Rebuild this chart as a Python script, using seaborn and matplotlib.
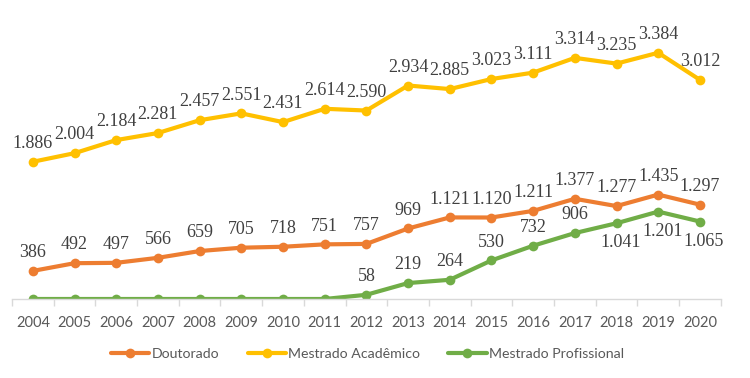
import numpy as np
import pandas as pd
import matplotlib
matplotlib.use("Agg")
import matplotlib.pyplot as plt
import seaborn as sns
from matplotlib.lines import Line2D

years = list(range(2004, 2021))
doutorado = [386, 492, 497, 566, 659, 705, 718, 751, 757, 969, 1121, 1120, 1211, 1377, 1277, 1435, 1297]
mestrado_acad = [1886, 2004, 2184, 2281, 2457, 2551, 2431, 2614, 2590, 2934, 2885, 3023, 3111, 3314, 3235, 3384, 3012]
mestrado_prof = [0, 0, 0, 0, 0, 0, 0, 0, 58, 219, 264, 530, 732, 906, 1041, 1201, 1065]
series_names = ["Doutorado", "Mestrado Acadêmico", "Mestrado Profissional"]
colors = ["#ED7D31", "#FFC000", "#70AD47"]

df = pd.DataFrame({
    "Ano": years * 3,
    "Valor": doutorado + mestrado_acad + mestrado_prof,
    "Serie": [series_names[0]] * 17 + [series_names[1]] * 17 + [series_names[2]] * 17,
})

sns.set_theme(style="white")
plt.rcParams["font.family"] = ["Lato", "DejaVu Sans"]

fig = plt.figure(figsize=(7.5, 3.78), dpi=100)
ax = fig.add_axes([0.016, 0.209, 0.945, 0.770])

sns.lineplot(data=df, x="Ano", y="Valor", hue="Serie", palette=colors,
             marker="o", markersize=7, markeredgewidth=0, linewidth=3,
             ax=ax, legend=False)

ax.set_xlim(2003.5, 2020.5)
ax.set_ylim(0, 4000)
ax.set_yticks([])
ax.set_xticks(years)
ax.set_xticks(np.arange(2003.5, 2021, 1), minor=True)
ax.tick_params(axis="x", which="major", length=0, labelsize=10.5, labelcolor="#595959", pad=12)
ax.tick_params(axis="x", which="minor", length=5, color="#d9d9d9", width=1, direction="out", bottom=True)
ax.set_xlabel("")
ax.set_ylabel("")
for s in ["top", "right", "left"]:
    ax.spines[s].set_visible(False)
ax.spines["bottom"].set_color("#d9d9d9")
ax.spines["bottom"].set_linewidth(1)

def fmt(v):
    return f"{v:,}".replace(",", ".")

serif = ["Liberation Serif", "DejaVu Serif"]
lab_kw = dict(textcoords="offset points", ha="center", fontsize=13, color="#404040", family=serif)
for vals in [doutorado, mestrado_acad]:
    for x, v in zip(years, vals):
        ax.annotate(fmt(v), (x, v), xytext=(0, 7), va="bottom", **lab_kw)
for x, v in zip(years, mestrado_prof):
    if v == 0:
        continue
    if x >= 2018:
        ax.annotate(fmt(v), (x, v), xytext=(3, -8), va="top", **lab_kw)
    else:
        ax.annotate(fmt(v), (x, v), xytext=(0, 7), va="bottom", **lab_kw)

handles = [Line2D([0], [0], color=c, lw=3, marker="o", markersize=7, markeredgewidth=0) for c in colors]
fig.legend(handles, series_names, loc="center", bbox_to_anchor=(0.49, 0.063), ncol=3,
           frameon=False, fontsize=10.2, labelcolor="#595959", handlelength=2.7,
           handletextpad=0.15, columnspacing=2.0)

fig.savefig("out.png", dpi=100)
